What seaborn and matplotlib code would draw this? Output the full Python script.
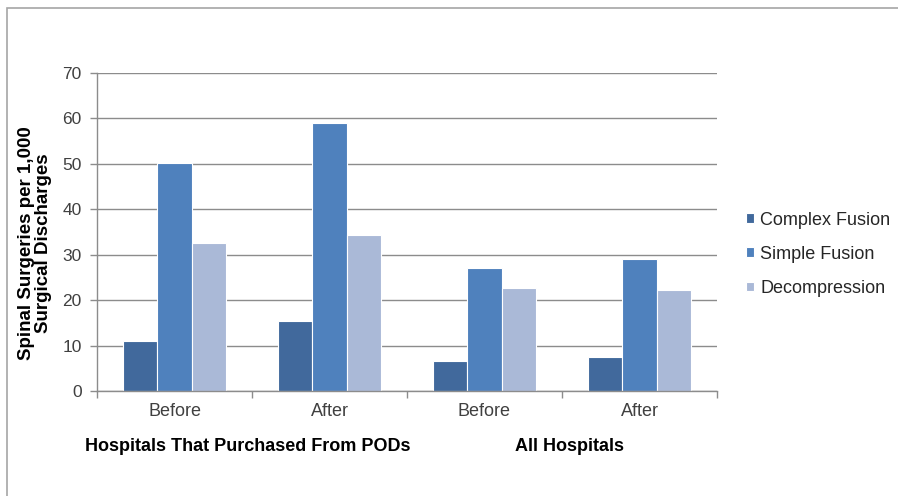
import matplotlib
matplotlib.use("Agg")
import matplotlib.pyplot as plt
import matplotlib.patches as mpatches
import seaborn as sns
import pandas as pd

# Rates of spinal surgery per 1,000 surgical discharges
periods = ["Before", "After", "Before", "After"]
groups = ["Hospitals That Purchased From PODs", "All Hospitals"]
procedures = ["Complex Fusion", "Simple Fusion", "Decompression"]
complex_fusion = [11.0, 15.5, 6.7, 7.5]
simple_fusion = [50.2, 59.0, 27.0, 29.1]
decompression = [32.6, 34.3, 22.7, 22.2]
colors = ["#41699C", "#4F81BD", "#AAB9D7"]
y_ticks = [0, 10, 20, 30, 40, 50, 60, 70]

slots = [f"{g}|{p}" for g in groups for p in ["Before", "After"]]
rows = []
for i, slot in enumerate(slots):
    for proc, vals in zip(procedures, [complex_fusion, simple_fusion, decompression]):
        rows.append({"slot": slot, "procedure": proc, "value": vals[i]})
df = pd.DataFrame(rows)

sns.set_theme(style="white")
plt.rcParams["font.family"] = ["Liberation Sans", "DejaVu Sans"]

fig = plt.figure(figsize=(8.98, 4.96), dpi=100)
ax = fig.add_axes([97 / 898, 1 - 391 / 496, 620 / 898, 318 / 496])

sns.barplot(data=df, x="slot", y="value", hue="procedure", order=slots,
            hue_order=procedures, palette=colors, width=0.67, ax=ax,
            edgecolor="white", linewidth=0.8, saturation=1, legend=True)

ax.set_xlim(-0.5, 3.5)
ax.set_ylim(0, 70)
ax.set_yticks(y_ticks)
ax.set_yticklabels([str(t) for t in y_ticks], fontsize=12.5, color="#404040")
ax.yaxis.grid(True, color="#8c8c8c", linewidth=1.0)
ax.set_axisbelow(True)

ax.set_xticks([-0.5, 0.5, 1.5, 2.5, 3.5])
ax.set_xticklabels([])
ax.set_xticks([0, 1, 2, 3], minor=True)
ax.set_xticklabels(periods, minor=True, fontsize=13, color="#404040")
ax.tick_params(axis="x", which="major", length=5, color="#8c8c8c", width=1, direction="out", bottom=True)
ax.tick_params(axis="x", which="minor", length=0, pad=9)
ax.tick_params(axis="y", length=5, color="#8c8c8c", width=1, direction="out", left=True, pad=6)

for side in ["top", "right"]:
    ax.spines[side].set_visible(False)
for side in ["left", "bottom"]:
    ax.spines[side].set_color("#8c8c8c")
    ax.spines[side].set_linewidth(1.0)

ax.set_xlabel("")
ax.set_ylabel("Spinal Surgeries per 1,000\nSurgical Discharges", fontsize=13.5,
              fontweight="bold", color="black", linespacing=1.0)
ax.yaxis.set_label_coords(-0.073, 0.464)

# Group captions beneath the period labels
ax.text(0.47, -0.173, groups[0], transform=ax.get_xaxis_transform(), ha="center",
        va="center", fontsize=13, fontweight="bold", color="black")
ax.text(2.55, -0.173, groups[1], transform=ax.get_xaxis_transform(), ha="center",
        va="center", fontsize=13, fontweight="bold", color="black")

leg = ax.legend(loc="center left", bbox_to_anchor=(1.02, 0.43), frameon=False,
                fontsize=13, handlelength=0.45, handleheight=0.45,
                handletextpad=0.35, labelspacing=0.95)
for t in leg.get_texts():
    t.set_color("#262626")

# Chart-area border
fig.patches.append(mpatches.Rectangle((7 / 898, -0.05), 1.1, 1 - 8 / 496 + 0.05,
                                      transform=fig.transFigure, fill=False,
                                      edgecolor="#a6a6a6", linewidth=1.2))

fig.savefig("out.png", dpi=100)
